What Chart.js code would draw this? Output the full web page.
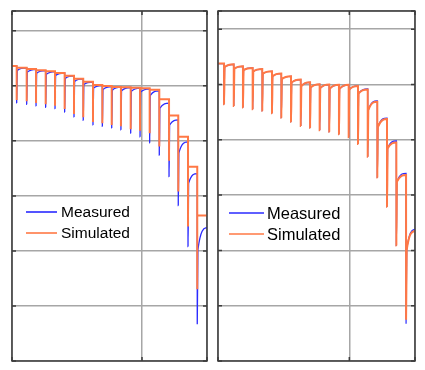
<!DOCTYPE html>
<html>
<head>
<meta charset="utf-8">
<script src="https://cdn.jsdelivr.net/npm/chart.js@4.4.0/dist/chart.umd.min.js"></script>
<style>
    html, body { margin: 0; padding: 0; background: #fff; }
    #wrap { position: relative; width: 425px; height: 370px; }
    canvas { position: absolute; top: 0; }
    #chartLeft { left: 0; }
    #chartRight { left: 212px; }
</style>
</head>
<body>
<div id="wrap">
    <canvas id="chartLeft" width="212" height="370"></canvas>
    <canvas id="chartRight" width="213" height="370"></canvas>
</div>
<script>
// axis ranges
const xRange = [0, 1.5];
const yMin = 2.8;

// left panel: pulse times, measured (top before pulse + end, bottom, level right after pulse)
const leftPulseX = [0.036, 0.113, 0.185, 0.259, 0.331, 0.405, 0.477, 0.548, 0.623, 0.695,
    0.767, 0.838, 0.913, 0.985, 1.059, 1.133, 1.208, 1.279, 1.354, 1.425];
const leftMeasTop = [3.872, 3.865, 3.860, 3.855, 3.852, 3.846, 3.836, 3.825, 3.814, 3.802,
    3.797, 3.795, 3.794, 3.792, 3.789, 3.782, 3.737, 3.676, 3.596, 3.481, 3.285];
const leftMeasBot = [3.738, 3.733, 3.727, 3.722, 3.717, 3.705, 3.687, 3.675, 3.658, 3.653,
    3.647, 3.640, 3.628, 3.615, 3.593, 3.548, 3.470, 3.365, 3.216, 2.934];
const leftMeasRec = [3.856, 3.850, 3.846, 3.842, 3.838, 3.827, 3.816, 3.805, 3.792, 3.787,
    3.784, 3.782, 3.780, 3.777, 3.765, 3.719, 3.658, 3.557, 3.447, 3.205];
// left panel simulated: start level + level after each pulse, bottom of each pulse
const leftSimLevel = [3.872, 3.866, 3.861, 3.857, 3.853, 3.847, 3.837, 3.826, 3.815, 3.803, 3.799,
    3.796, 3.795, 3.793, 3.791, 3.786, 3.751, 3.692, 3.615, 3.506, 3.329];
const leftSimBot = [3.749, 3.744, 3.738, 3.733, 3.728, 3.716, 3.698, 3.686, 3.669, 3.664,
    3.658, 3.653, 3.642, 3.637, 3.628, 3.580, 3.528, 3.416, 3.289, 3.061];

// right panel
const rightPulseX = [0.046, 0.120, 0.190, 0.264, 0.337, 0.411, 0.482, 0.556, 0.630, 0.701,
    0.774, 0.847, 0.921, 0.995, 1.066, 1.140, 1.213, 1.287, 1.358, 1.432];
const rightMeasTop = [3.876, 3.873, 3.866, 3.860, 3.856, 3.848, 3.840, 3.830, 3.818, 3.808,
    3.801, 3.800, 3.799, 3.799, 3.795, 3.784, 3.741, 3.679, 3.596, 3.479, 3.277];
const rightMeasBot = [3.729, 3.722, 3.717, 3.711, 3.705, 3.696, 3.680, 3.665, 3.650, 3.644,
    3.635, 3.629, 3.620, 3.609, 3.585, 3.539, 3.464, 3.358, 3.218, 2.935];
const rightMeasRec = [3.863, 3.857, 3.852, 3.847, 3.839, 3.830, 3.820, 3.807, 3.794, 3.789,
    3.787, 3.785, 3.784, 3.782, 3.768, 3.708, 3.647, 3.569, 3.449, 3.202];
const rightSimTop = [3.876, 3.873, 3.866, 3.860, 3.856, 3.848, 3.840, 3.830, 3.818, 3.808,
    3.801, 3.800, 3.799, 3.799, 3.795, 3.782, 3.738, 3.675, 3.590, 3.473, 3.271];
const rightSimBot = [3.729, 3.722, 3.717, 3.711, 3.705, 3.696, 3.680, 3.665, 3.650, 3.644,
    3.635, 3.629, 3.620, 3.609, 3.585, 3.539, 3.464, 3.358, 3.218, 2.949];
const rightSimRec = [3.863, 3.857, 3.852, 3.847, 3.839, 3.830, 3.820, 3.807, 3.794, 3.789,
    3.787, 3.785, 3.784, 3.782, 3.768, 3.708, 3.647, 3.569, 3.449, 3.202];

const BLUE = '#2a2aff';
const ORANGE = '#ff7845';
const GRID = '#a6a6a6';
const BOX = '#3c3c3c';
const PULSE_W = 0.005;

// pulse with relaxation: level, drop, jump back, recover up to next level
function pulsePoints(xs, tops, bots, recs) {
    const pts = [{ x: xRange[0], y: tops[0] }];
    xs.forEach((x, i) => {
        pts.push({ x: x, y: tops[i] });
        pts.push({ x: x, y: bots[i] });
        pts.push({ x: x + PULSE_W, y: recs[i] });
    });
    pts.push({ x: xRange[1], y: tops[xs.length] });
    return pts;
}

// square steps: flat level, drop, back up to new flat level
function stepPoints(xs, levels, bots) {
    const pts = [{ x: xRange[0], y: levels[0] }];
    xs.forEach((x, i) => {
        pts.push({ x: x, y: levels[i] });
        pts.push({ x: x, y: bots[i] });
        pts.push({ x: x, y: levels[i + 1] });
    });
    pts.push({ x: xRange[1], y: levels[xs.length] });
    return pts;
}

const axesBox = {
    id: 'axesBox',
    afterDatasetsDraw(chart, args, opts) {
        const { ctx, chartArea: a, scales } = chart;
        ctx.save();
        ctx.strokeStyle = BOX;
        ctx.lineWidth = 1.5;
        ctx.beginPath();
        scales.y.ticks.forEach(t => {
            const y = scales.y.getPixelForValue(t.value);
            ctx.moveTo(a.left, y);
            ctx.lineTo(a.left + 4, y);
            ctx.moveTo(a.right, y);
            ctx.lineTo(a.right - 4, y);
        });
        scales.x.ticks.forEach(t => {
            const x = scales.x.getPixelForValue(t.value);
            ctx.moveTo(x, a.top);
            ctx.lineTo(x, a.top + 4);
            ctx.moveTo(x, a.bottom);
            ctx.lineTo(x, a.bottom - 4);
        });
        ctx.stroke();
        ctx.strokeRect(a.left, a.top, a.right - a.left, a.bottom - a.top);

        // legend inside the axes, no box
        ctx.font = opts.fontSize + 'px "Liberation Sans", Arial, sans-serif';
        ctx.textBaseline = 'middle';
        ctx.fillStyle = '#000';
        chart.data.datasets.forEach((ds, i) => {
            const y = opts.y + i * opts.rowGap;
            ctx.strokeStyle = ds.borderColor;
            ctx.lineWidth = 1.6;
            ctx.beginPath();
            ctx.moveTo(opts.x, y);
            ctx.lineTo(opts.x + opts.lineLen, y);
            ctx.stroke();
            ctx.fillText(ds.label, opts.x + opts.lineLen + opts.gap, y + 1);
        });
        ctx.restore();
    }
};

function PulseChart(canvas, datasets, options) {
    new Chart(canvas, {
        type: 'line',
        data: { datasets: datasets },
        options: {
            responsive: false,
            animation: false,
            events: [],
            layout: { padding: options.padding },
            elements: { point: { radius: 0 } },
            plugins: {
                legend: { display: false },
                tooltip: { enabled: false },
                axesBox: options.legend
            },
            scales: {
                x: {
                    type: 'linear',
                    min: xRange[0],
                    max: xRange[1],
                    ticks: { display: false, stepSize: 1 },
                    grid: { color: GRID, lineWidth: 1.5, drawTicks: false },
                    border: { display: false }
                },
                y: {
                    type: 'linear',
                    min: yMin,
                    max: options.yMax,
                    ticks: { display: false, stepSize: 0.2 },
                    grid: { color: GRID, lineWidth: 1.5, drawTicks: false },
                    border: { display: false }
                }
            }
        },
        plugins: [axesBox]
    });
}

PulseChart(document.getElementById('chartLeft'), [{
    label: 'Measured',
    data: pulsePoints(leftPulseX, leftMeasTop, leftMeasBot, leftMeasRec),
    borderColor: BLUE,
    borderWidth: 1.3,
    cubicInterpolationMode: 'monotone',
    order: 1
}, {
    label: 'Simulated',
    data: stepPoints(leftPulseX, leftSimLevel, leftSimBot),
    borderColor: ORANGE,
    borderWidth: 2,
    tension: 0,
    order: 0
}], {
    padding: { left: 12, top: 11, right: 5, bottom: 9 },
    yMax: 4.072,
    legend: { x: 26, y: 212, rowGap: 21, lineLen: 31, gap: 4, fontSize: 15.5 }
});

PulseChart(document.getElementById('chartRight'), [{
    label: 'Measured',
    data: pulsePoints(rightPulseX, rightMeasTop, rightMeasBot, rightMeasRec),
    borderColor: BLUE,
    borderWidth: 1.2,
    cubicInterpolationMode: 'monotone',
    order: 1
}, {
    label: 'Simulated',
    data: pulsePoints(rightPulseX, rightSimTop, rightSimBot, rightSimRec),
    borderColor: ORANGE,
    borderWidth: 2,
    cubicInterpolationMode: 'monotone',
    order: 0
}], {
    padding: { left: 6, top: 11, right: 10, bottom: 9 },
    yMax: 4.066,
    legend: { x: 17, y: 213, rowGap: 21, lineLen: 35, gap: 3, fontSize: 16.5 }
});
</script>
</body>
</html>
